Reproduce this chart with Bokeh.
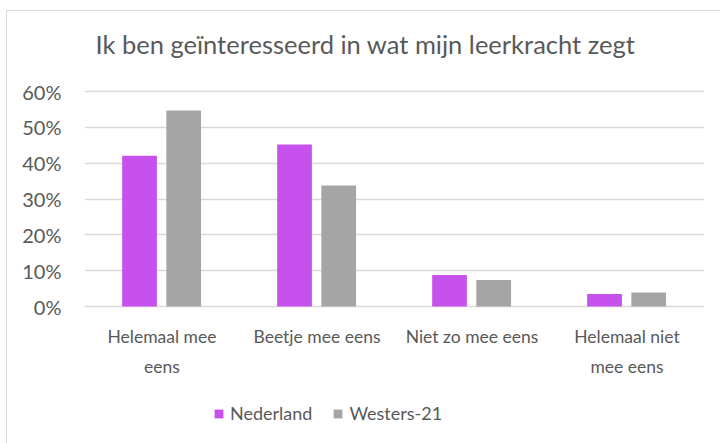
from bokeh.plotting import figure
from bokeh.models import (FactorRange, Range1d, ColumnDataSource, NumeralTickFormatter,
                          Legend, LegendItem, FixedTicker, Label)
from bokeh.transform import dodge
from bokeh.embed import file_html
from bokeh.resources import INLINE

categories = ["Helemaal mee\neens", "Beetje mee eens", "Niet zo mee eens", "Helemaal niet\nmee eens"]
nederland = [0.421, 0.452, 0.088, 0.035]
westers21 = [0.547, 0.338, 0.074, 0.039]
series_names = ["Nederland", "Westers-21"]
y_ticks = [0, 0.1, 0.2, 0.3, 0.4, 0.5, 0.6]
title_text = "Ik ben geïnteresseerd in wat mijn leerkracht zegt"

FONT = "Lato"
TXT = "#595959"
PURPLE = "#C651EC"
GREY = "#A5A5A5"

src = ColumnDataSource(dict(cat=categories, ned=nederland, wes=westers21))

# frame spans title-to-legend area; 0%..60% occupies the middle band
p = figure(frame_width=620, frame_height=420, output_backend="svg", toolbar_location=None,
           x_range=FactorRange(*categories, range_padding=0), y_range=Range1d(-0.36, 0.8121),
           min_border_left=84, min_border_right=16, min_border_top=15, min_border_bottom=8,
           title=None)
p.border_fill_color = None
p.background_fill_color = "white"
p.styles = {"background": "linear-gradient(#D9D9D9, #D9D9D9) 6px 10px / 100% 1px no-repeat, "
                          "linear-gradient(#D9D9D9, #D9D9D9) 6px 10px / 1px 100% no-repeat, white"}

r1 = p.vbar(x=dodge("cat", -0.145, range=p.x_range), top="ned", width=0.224, source=src,
            fill_color=PURPLE, line_color=None)
r2 = p.vbar(x=dodge("cat", 0.14, range=p.x_range), top="wes", width=0.224, source=src,
            fill_color=GREY, line_color=None)

title = Label(x=11, y=392, x_units="screen", y_units="screen", text=title_text,
              text_font=FONT, text_font_size="25.5px", text_color=TXT,
              text_align="left", text_baseline="alphabetic")
p.add_layout(title)

p.outline_line_color = None
p.xgrid.grid_line_color = None
ticker = FixedTicker(ticks=y_ticks)
p.yaxis.ticker = ticker
p.ygrid.ticker = ticker
p.ygrid.grid_line_color = "#D9D9D9"
p.ygrid.grid_line_width = 1.3
p.yaxis.formatter = NumeralTickFormatter(format="0%")
p.xaxis.fixed_location = 0
for ax in (p.xaxis[0], p.yaxis[0]):
    ax.axis_line_color = None
    ax.major_tick_line_color = None
    ax.minor_tick_line_color = None
    ax.major_label_text_font = FONT
    ax.major_label_text_color = TXT
p.yaxis.major_label_text_font_size = "20px"
p.xaxis.major_label_text_font_size = "17.5px"
p.yaxis.major_label_standoff = 17
p.xaxis.major_label_standoff = 13
p.xaxis.major_label_text_line_height = 1.45

legend = Legend(items=[LegendItem(label=series_names[0], renderers=[r1]),
                       LegendItem(label=series_names[1], renderers=[r2])],
                orientation="horizontal", location=(129, 11),
                label_text_font=FONT, label_text_font_size="18px", label_text_color=TXT,
                glyph_width=11, glyph_height=11, label_standoff=6, spacing=20,
                border_line_color=None, background_fill_alpha=0, padding=0, margin=0)
p.add_layout(legend, "center")

open("out.html", "w").write(file_html(p, INLINE))
